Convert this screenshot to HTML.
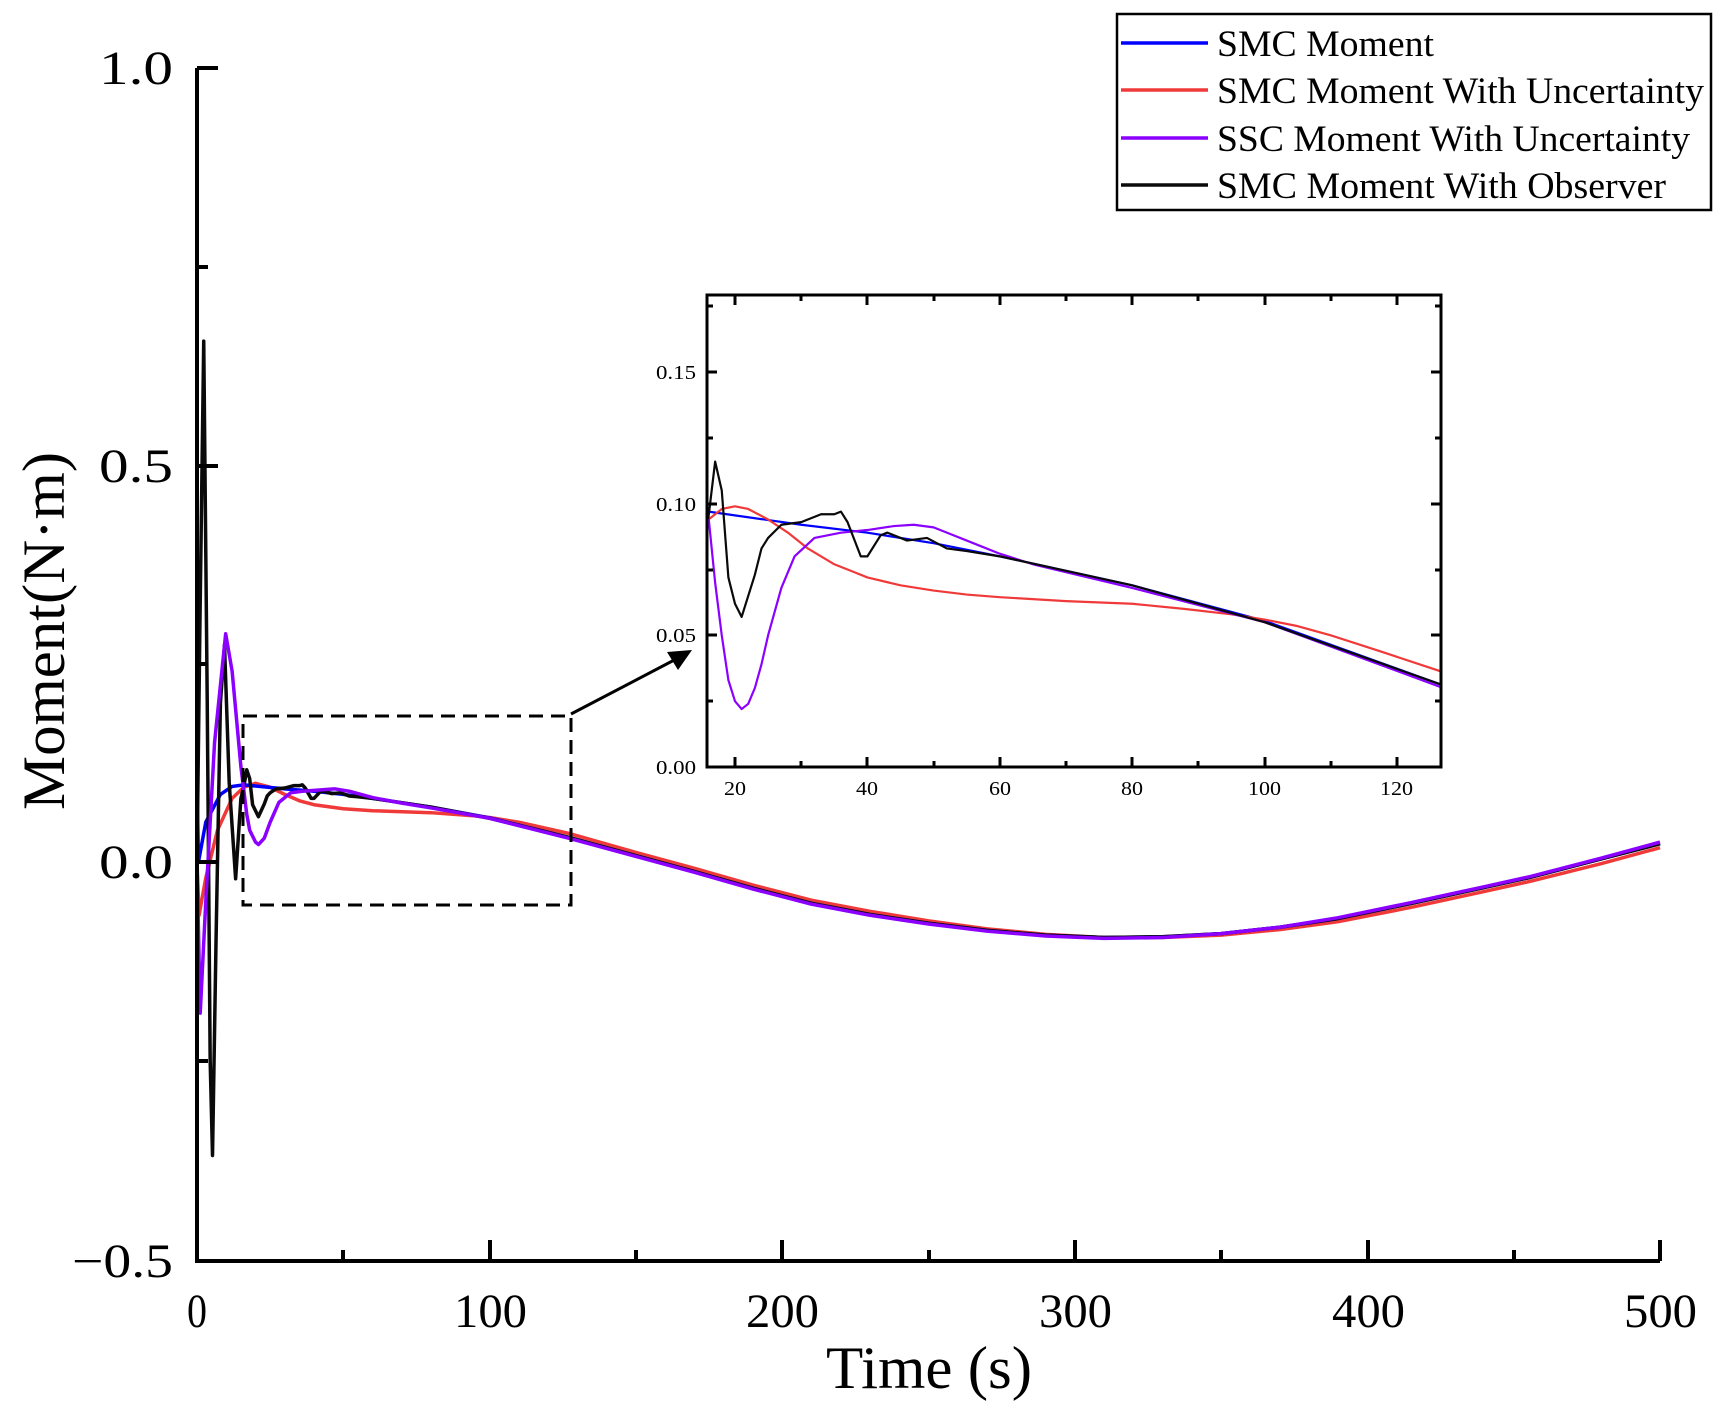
<!DOCTYPE html>
<html><head><meta charset="utf-8"><style>
html,body{margin:0;padding:0;background:#fff}
svg{display:block}
text{font-family:"Liberation Serif",serif;fill:#000}
</style></head><body>
<svg width="1724" height="1411" viewBox="0 0 1724 1411" xmlns="http://www.w3.org/2000/svg">
<defs>
<clipPath id="ci"><rect x="707" y="295" width="734" height="472"/></clipPath>
<clipPath id="cm"><rect x="197" y="40" width="1470" height="1221"/></clipPath>
</defs>
<g clip-path="url(#cm)" fill="none" stroke-width="3.5" stroke-linejoin="round">
<g transform="matrix(2.926,0,0,-795.3,197,862)">
<polyline vector-effect="non-scaling-stroke" stroke="#f03a3a" points="0,0 0.7,-0.067 3,-0.02 7,0.04 12,0.08 16,0.094 20,0.099 25,0.094 30,0.085 35,0.077 40,0.072 50,0.067 60,0.0645 80,0.062 95,0.058 100,0.056 110,0.05 127,0.036 150,0.012 170,-0.008 190,-0.029 210,-0.048 230,-0.062 250,-0.074 270,-0.084 290,-0.091 310,-0.095 330,-0.095 350,-0.092 370,-0.085 390,-0.075 415,-0.057 440,-0.037 456,-0.024 480,-0.002 500,0.018"/>
<polyline vector-effect="non-scaling-stroke" stroke="#0000ff" points="0,0.1 0.5,0 3,0.05 8,0.085 12,0.095 16,0.097 30,0.092 40,0.089 50,0.085 60,0.08 80,0.069 100,0.0555 127,0.031 150,0.008 170,-0.012 190,-0.033 210,-0.052 230,-0.066 250,-0.077 270,-0.086 290,-0.092 310,-0.095 330,-0.094 350,-0.09 370,-0.082 390,-0.071 415,-0.052 440,-0.032 456,-0.019 480,0.004 500,0.023"/>
<polyline vector-effect="non-scaling-stroke" stroke="#0a0a0a" points="0,0 1,0.3 2.3,0.655 3.5,0.2 4.5,-0.25 5.3,-0.369 6.5,-0.1 8,0.2 9.4,0.273 11,0.1 13.2,-0.021 15,0.08 16,0.095 17,0.116 18,0.105 19,0.072 21,0.057 23,0.073 24,0.083 25,0.087 27,0.092 30,0.093 33,0.096 35,0.096 36,0.097 37,0.093 39,0.08 40,0.08 42,0.088 43,0.089 46,0.086 49,0.087 52,0.083 55,0.082 60,0.08 80,0.069 100,0.055 127,0.031 150,0.008 170,-0.012 190,-0.033 210,-0.052 230,-0.066 250,-0.077 270,-0.086 290,-0.092 310,-0.095 330,-0.094 350,-0.09 370,-0.082 390,-0.071 415,-0.052 440,-0.032 456,-0.019 480,0.004 500,0.023"/>
<polyline vector-effect="non-scaling-stroke" stroke="#8b00ff" points="0,0 1.1,-0.19 3,-0.05 6,0.15 9.8,0.287 12,0.24 15,0.12 17,0.06 18,0.04 20,0.025 21,0.022 23,0.03 25,0.05 28,0.075 32,0.087 36,0.089 40,0.09 47,0.092 52,0.089 60,0.081 70,0.074 80,0.068 100,0.055 127,0.03 150,0.007 170,-0.013 190,-0.034 210,-0.053 230,-0.067 250,-0.078 270,-0.087 290,-0.093 310,-0.096 330,-0.095 350,-0.09 370,-0.082 390,-0.07 415,-0.051 440,-0.031 456,-0.018 480,0.005 500,0.025"/>
</g>
</g>
<g stroke="#000" stroke-width="4" fill="none">
<polyline points="197,68 197,1261 1660,1261"/>
<line x1="197" y1="68" x2="218" y2="68"/><line x1="197" y1="466" x2="218" y2="466"/><line x1="197" y1="862" x2="218" y2="862"/><line x1="197" y1="1261" x2="218" y2="1261"/>
<line x1="197" y1="267" x2="208" y2="267"/><line x1="197" y1="664" x2="208" y2="664"/><line x1="197" y1="1061" x2="208" y2="1061"/>
<line x1="490" y1="1261" x2="490" y2="1240"/><line x1="782" y1="1261" x2="782" y2="1240"/><line x1="1075" y1="1261" x2="1075" y2="1240"/><line x1="1368" y1="1261" x2="1368" y2="1240"/><line x1="1660" y1="1261" x2="1660" y2="1240"/>
<line x1="343" y1="1261" x2="343" y2="1250"/><line x1="636" y1="1261" x2="636" y2="1250"/><line x1="929" y1="1261" x2="929" y2="1250"/><line x1="1221" y1="1261" x2="1221" y2="1250"/><line x1="1514" y1="1261" x2="1514" y2="1250"/>
</g>
<g font-size="48" lengthAdjust="spacingAndGlyphs">
<text x="99" y="84" textLength="74" lengthAdjust="spacingAndGlyphs">1.0</text>
<text x="99" y="482" textLength="74" lengthAdjust="spacingAndGlyphs">0.5</text>
<text x="99" y="878" textLength="74" lengthAdjust="spacingAndGlyphs">0.0</text>
<text x="72" y="1277" textLength="101" lengthAdjust="spacingAndGlyphs">−0.5</text>
</g>
<g font-size="48">
<text x="187" y="1327" textLength="20" lengthAdjust="spacingAndGlyphs">0</text>
<text x="454" y="1327" textLength="73" lengthAdjust="spacingAndGlyphs">100</text>
<text x="746" y="1327" textLength="73" lengthAdjust="spacingAndGlyphs">200</text>
<text x="1039" y="1327" textLength="73" lengthAdjust="spacingAndGlyphs">300</text>
<text x="1332" y="1327" textLength="73" lengthAdjust="spacingAndGlyphs">400</text>
<text x="1624" y="1327" textLength="73" lengthAdjust="spacingAndGlyphs">500</text>
</g>
<text x="826" y="1388" font-size="60" textLength="206" lengthAdjust="spacingAndGlyphs">Time (s)</text>
<text transform="translate(64,810) rotate(-90)" font-size="60" textLength="358" lengthAdjust="spacingAndGlyphs">Moment(N·m)</text>
<rect x="243" y="716" width="328" height="189" fill="none" stroke="#000" stroke-width="3" stroke-dasharray="14,8"/>
<line x1="571" y1="714" x2="680" y2="657" stroke="#000" stroke-width="3"/>
<polygon points="692,650 667,652 678,670" fill="#000"/>
<rect x="707" y="295" width="734" height="472" fill="#fff"/>
<g clip-path="url(#ci)" fill="none" stroke-width="2.2" stroke-linejoin="round">
<g transform="matrix(6.62,0,0,-2633,602.6,767)">
<polyline vector-effect="non-scaling-stroke" stroke="#0000ff" points="15,0.097 16,0.097 30,0.092 40,0.089 50,0.085 60,0.08 80,0.069 100,0.0555 127,0.031"/>
<polyline vector-effect="non-scaling-stroke" stroke="#f03a3a" points="15,0.092 16,0.094 18,0.098 20,0.099 22,0.098 25,0.094 28,0.089 31,0.083 35,0.077 38,0.074 40,0.072 45,0.069 50,0.067 55,0.0655 60,0.0645 70,0.063 80,0.062 88,0.06 95,0.058 100,0.056 105,0.0535 110,0.05 118,0.0435 127,0.036"/>
<polyline vector-effect="non-scaling-stroke" stroke="#8b00ff" points="15,0.1 16,0.095 17,0.07 18,0.05 19,0.033 20,0.025 21,0.022 22,0.024 23,0.03 24,0.039 25,0.05 27,0.068 29,0.08 32,0.087 36,0.089 40,0.09 44,0.0915 47,0.092 50,0.091 52,0.089 56,0.085 60,0.081 65,0.077 70,0.074 80,0.068 100,0.055 127,0.03"/>
<polyline vector-effect="non-scaling-stroke" stroke="#0a0a0a" points="15,0.09 16,0.095 17,0.116 18,0.105 19,0.072 20,0.062 21,0.057 23,0.073 24,0.083 25,0.087 27,0.092 30,0.093 33,0.096 35,0.096 36,0.097 37,0.093 39,0.08 40,0.08 42,0.088 43,0.089 46,0.086 49,0.087 52,0.083 55,0.082 60,0.08 80,0.069 100,0.055 127,0.031"/>
</g>
</g>
<g stroke="#000" stroke-width="3" fill="none">
<rect x="707" y="295" width="734" height="472"/>
<path d="M707,767h10M707,635h10M707,504h10M707,372h10M1441,767h-10M1441,635h-10M1441,504h-10M1441,372h-10"/>
<path d="M707,701h6M707,570h6M707,438h6M707,306h6M1441,701h-6M1441,570h-6M1441,438h-6M1441,306h-6"/>
<path d="M735,767v-10M867,767v-10M1000,767v-10M1132,767v-10M1265,767v-10M1397,767v-10M735,295v10M867,295v10M1000,295v10M1132,295v10M1265,295v10M1397,295v10"/>
<path d="M801,767v-6M934,767v-6M1066,767v-6M1198,767v-6M1331,767v-6M801,295v6M934,295v6M1066,295v6M1198,295v6M1331,295v6"/>
</g>
<g font-size="20">
<text x="656" y="774" textLength="40" lengthAdjust="spacingAndGlyphs">0.00</text>
<text x="656" y="642" textLength="40" lengthAdjust="spacingAndGlyphs">0.05</text>
<text x="656" y="511" textLength="40" lengthAdjust="spacingAndGlyphs">0.10</text>
<text x="656" y="379" textLength="40" lengthAdjust="spacingAndGlyphs">0.15</text>
</g>
<g font-size="20">
<text x="724" y="795" textLength="22" lengthAdjust="spacingAndGlyphs">20</text>
<text x="856" y="795" textLength="22" lengthAdjust="spacingAndGlyphs">40</text>
<text x="989" y="795" textLength="22" lengthAdjust="spacingAndGlyphs">60</text>
<text x="1121" y="795" textLength="22" lengthAdjust="spacingAndGlyphs">80</text>
<text x="1248" y="795" textLength="33" lengthAdjust="spacingAndGlyphs">100</text>
<text x="1380" y="795" textLength="33" lengthAdjust="spacingAndGlyphs">120</text>
</g>
<rect x="1117" y="14" width="594" height="196" fill="#fff" stroke="#000" stroke-width="2.5"/>
<g stroke-width="3.5">
<line x1="1121" y1="43" x2="1208" y2="43" stroke="#0000ff"/>
<line x1="1121" y1="90" x2="1208" y2="90" stroke="#f03a3a"/>
<line x1="1121" y1="138" x2="1208" y2="138" stroke="#8b00ff"/>
<line x1="1121" y1="185" x2="1208" y2="185" stroke="#0a0a0a"/>
</g>
<g font-size="37">
<text x="1217" y="56" textLength="217" lengthAdjust="spacingAndGlyphs">SMC Moment</text>
<text x="1217" y="103" textLength="487" lengthAdjust="spacingAndGlyphs">SMC Moment With Uncertainty</text>
<text x="1217" y="151" textLength="473" lengthAdjust="spacingAndGlyphs">SSC Moment With Uncertainty</text>
<text x="1217" y="198" textLength="449" lengthAdjust="spacingAndGlyphs">SMC Moment With Observer</text>
</g>
</svg>
</body></html>
